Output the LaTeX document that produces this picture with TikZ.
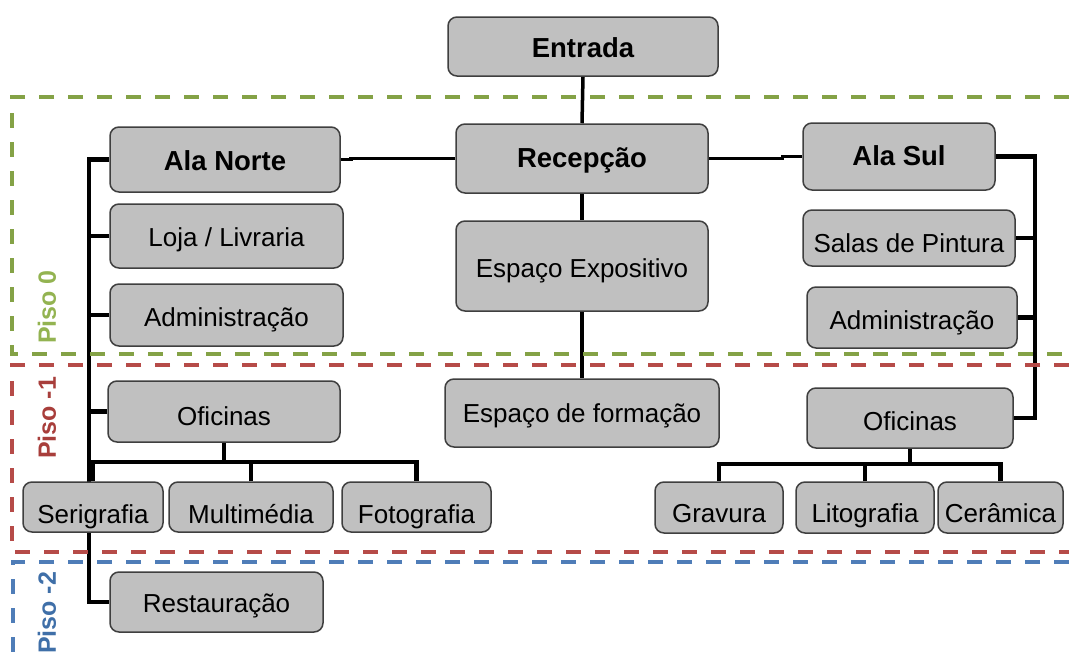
\documentclass[tikz,border=0pt]{standalone}
\usepackage{fontspec}
\setmainfont{Liberation Sans}
\usetikzlibrary{backgrounds}
\definecolor{boxfill}{HTML}{C0C0C0}
\definecolor{boxline}{HTML}{3F3F3F}
\definecolor{gline}{HTML}{84A246}
\definecolor{gtext}{HTML}{93B351}
\definecolor{rline}{HTML}{B64B48}
\definecolor{rtext}{HTML}{A83E3B}
\definecolor{bline}{HTML}{4F7DB8}
\definecolor{btext}{HTML}{3F6FA8}
\newcommand{\drawbx}[8][]{%
  \pgfmathsetmacro\bxw{#5-#3}\pgfmathsetmacro\bxh{#6-#4}%
  \pgfmathsetmacro\bxcx{(#3+#5)/2}\pgfmathsetmacro\bxcy{(#4+#6)/2}%
  \pgfmathsetmacro\bxth{18.6+2*#7}%
  \node[box,#1,minimum width=\bxw pt,minimum height=\bxh pt,text height=\bxth pt,text depth=0pt] (#2) at (\bxcx,\bxcy) {#8};}
\begin{document}
\begin{tikzpicture}[x=1pt,y=-1pt,
  box/.style={draw=boxline, fill=boxfill, line width=1.5pt, rounded corners=9pt, inner sep=1pt,
    font=\fontsize{26}{30}\selectfont, text=black},
  heading/.style={font=\fontsize{27.5}{32}\selectfont\bfseries},
  conn/.style={line width=3.5pt, black},
  bus/.style={line width=4.5pt, black},
  floor/.style={line width=3.5pt, dash pattern=on 15pt off 14pt},
  flabel/.style={rotate=90, font=\fontsize{25}{29}\selectfont\bfseries}]
\useasboundingbox (0,0) rectangle (1069,656);
% boxes
\drawbx[heading]{Ent}{448}{17}{718}{76}{2}{Entrada}
\drawbx[heading]{Rec}{456}{124}{708}{193}{0}{Recepção}
\drawbx[heading]{AN}{110}{127}{340}{192}{1.5}{Ala Norte}
\drawbx{Loja}{110}{204}{343}{268}{1.5}{Loja / Livraria}
\drawbx{AdmL}{110}{284}{343}{346}{2}{Administração}
\drawbx{Expo}{456}{221}{708}{311}{2}{Espaço Expositivo}
\drawbx{Form}{445}{379}{719}{447}{0}{Espaço de formação}
\drawbx[heading]{AS}{803}{123}{995}{190}{0}{Ala Sul}
\drawbx{Salas}{803}{210}{1015}{266}{5}{Salas de Pintura}
\drawbx{AdmR}{807}{287}{1017}{348}{2.5}{Administração}
\drawbx{OfL}{108}{381}{340}{442}{4.5}{Oficinas}
\drawbx{OfR}{807}{388}{1013}{448}{3.5}{Oficinas}
\drawbx{Seri}{23}{482}{163}{532}{7}{Serigrafia}
\drawbx{Multi}{169}{482}{333}{532}{7}{Multimédia}
\drawbx{Foto}{342}{482}{491}{532}{7}{Fotografia}
\drawbx{Grav}{655}{482}{783}{533}{6}{Gravura}
\drawbx{Lito}{796}{482}{934}{533}{6}{Litografia}
\drawbx{Cer}{938}{482}{1063}{533}{6}{Cerâmica}
\drawbx{Rest}{110}{572}{323}{632}{1.5}{Restauração}
\coordinate (lbus) at (89,0);
\coordinate (lh) at (0,462);
\coordinate (rbus) at (1035,0);
\coordinate (rh) at (0,464);
\begin{pgfonlayer}{background}
  % central spine
  \draw[conn] (Ent.south) -- (Rec.north);
  \draw[conn] (Rec.south) -- (Expo.north);
  \draw[conn] (Expo.south) -- (Form.north);
  \draw[conn] (Rec.west) -| ([xshift=10pt]AN.east) -- (AN.east);
  \draw[conn] (Rec.east) -| ([xshift=-20pt]AS.west) -- (AS.west);
  % left bus
  \draw[bus] (AN.west) -- (lbus |- AN.west) -- (lbus |- Rest.west) -- (Rest.west);
  \draw[bus] (Loja.west) -- (lbus |- Loja.west);
  \draw[bus] (AdmL.west) -- (lbus |- AdmL.west);
  \draw[bus] (OfL.west) -- (lbus |- OfL.west);
  % left workshops
  \draw[bus] (lbus |- lh) -- (Foto.north |- lh) -- (Foto.north);
  \draw[bus] (OfL.south) -- (OfL.south |- lh);
  \draw[bus] (Seri.north) -- (Seri.north |- lh);
  \draw[bus] (Multi.north) -- (Multi.north |- lh);
  % right bus
  \draw[bus] (AS.east) -- (rbus |- AS.east) -- (rbus |- OfR.east) -- (OfR.east);
  \draw[bus] (Salas.east) -- (rbus |- Salas.east);
  \draw[bus] (AdmR.east) -- (rbus |- AdmR.east);
  % right workshops
  \draw[bus] (Grav.north) -- (Grav.north |- rh) -- (Cer.north |- rh) -- (Cer.north);
  \draw[bus] (OfR.south) -- (OfR.south |- rh);
  \draw[bus] (Lito.north) -- (Lito.north |- rh);
\end{pgfonlayer}
% floors
\draw[floor, gline] (1069,97) -- (12,97) -- (12,354) -- (1069,354);
\draw[floor, rline] (1069,365) -- (12,365) -- (12,552) -- (1069,552);
\draw[floor, bline] (1069,562) -- (13,562) -- (13,662);
\node[flabel, text=gtext] (p0) at (47,307) {Piso 0};
\node[flabel, text=rtext] (p1) at (47,418) {Piso -1};
\node[flabel, text=btext] (p2) at (47,613) {Piso -2};
\end{tikzpicture}
\end{document}
